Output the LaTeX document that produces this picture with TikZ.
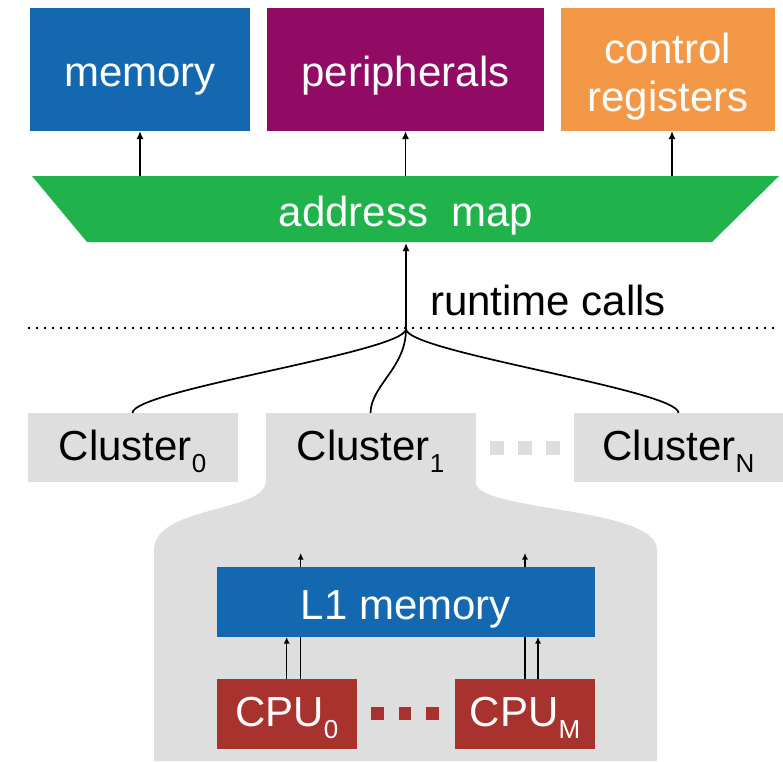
\documentclass[tikz,border=0pt]{standalone}
\usepackage{fontspec}
\setmainfont{Liberation Sans}
\usetikzlibrary{arrows.meta}

\definecolor{memblue}{RGB}{19,104,176}
\definecolor{periph}{RGB}{145,10,100}
\definecolor{ctrlorange}{RGB}{242,152,71}
\definecolor{mapgreen}{RGB}{32,179,76}
\definecolor{clgray}{RGB}{222,222,222}
\definecolor{cpured}{RGB}{168,50,46}

% lowered, smaller index after a label
\newcommand\lowsub[1]{\raisebox{-12pt}{\fontsize{26}{26}\selectfont #1}}

\begin{document}
\begin{tikzpicture}[x=1pt,y=-1pt,
  big/.style={font=\fontsize{42}{48}\selectfont},
  block/.style={big, draw=none, inner sep=0pt, outer sep=0pt, text height=34pt, text depth=0pt},
  subblock/.style={block, text height=25pt},
  arr/.style={-{Latex[length=8pt,width=7pt]}, line width=1.7pt},
  sarr/.style={-{Latex[length=6.5pt,width=6pt]}, line width=1.5pt},
  tree/.style={line width=1.7pt},
]
\useasboundingbox (0,0) rectangle (783,761);

% --- upper level: memory map targets
\node[block, fill=memblue, text=white, minimum width=220pt, minimum height=123pt] (mem) at (140,69.5) {memory};
\node[block, fill=periph, text=white, minimum width=277pt, minimum height=123pt] (per) at (405.5,69.5) {peripherals};
\node[block, fill=ctrlorange, text=white, minimum width=214pt, minimum height=123pt,
      text height=0pt, text depth=13pt] (ctrl) at (668,69.5)
      {\begin{tabular}[t]{@{}c@{}}control\\registers\end{tabular}};

% --- address map
\fill[mapgreen] (32,176) -- (779,176) -- (712,242) -- (87,242) -- cycle;
\coordinate (maptop) at (406,176);
\coordinate (mapbot) at (406,243);
\node[block, text=white] (map) at (406,209) {address\ \ map};

\draw[arr] (mem.south |- maptop) -- (mem.south);
\draw[arr] (per.south |- maptop) -- (per.south);
\draw[arr] ([xshift=4pt]ctrl.south |- maptop) -- ([xshift=4pt]ctrl.south);

% --- runtime calls
\coordinate (rt) at (406,329);
\draw[arr] (rt) -- (mapbot);
\node[big, anchor=base west, inner sep=0pt] (rtc) at (430,315) {runtime calls};

\coordinate (dl) at (28,328);
\coordinate (dr) at (779,328);
\draw[line width=1.8pt, dash pattern=on 2pt off 6pt] (dl) -- (dr);

% --- clusters
\node[subblock, fill=clgray, minimum width=210pt, minimum height=69pt] (c0) at (132.5,447.5) {Cluster\lowsub{0}};
\node[subblock, fill=clgray, minimum width=210pt, minimum height=69pt] (c1) at (370.5,447.5) {Cluster\lowsub{1}};
\node[subblock, fill=clgray, minimum width=209pt, minimum height=69pt] (cN) at (678.5,447.5) {Cluster\lowsub{N}};

\foreach \x in {497,525,553}
  \fill[clgray] (\x-6.75,441) rectangle (\x+6.75,454.5);

\draw[tree] (c0.north) .. controls (132,390) and (406,352) .. (rt);
\draw[tree] (c1.north) .. controls (371,385) and (406,368) .. (rt);
\draw[tree] (cN.north) .. controls (679,390) and (406,352) .. (rt);

% --- expanded view of one cluster
\fill[clgray] (c1.south west) .. controls (265.5,512) and (154,506) .. (154,550)
  -- (154,761) -- (657,761) -- (657,550)
  .. controls (657,506) and (475.5,512) .. (c1.south east) -- cycle;
\coordinate (ctop) at (406,553);

\node[subblock, fill=cpured, text=white, minimum width=140pt, minimum height=70pt] (cpu0) at (286.7,714) {CPU\lowsub{0}};
\node[subblock, fill=cpured, text=white, minimum width=140pt, minimum height=70pt] (cpuM) at (525,714) {CPU\lowsub{M}};
\foreach \x in {377.5,405,432.5}
  \fill[cpured] (\x-6.25,706.5) rectangle (\x+6.25,719.5);

% ports that pass through the L1 memory to the cluster boundary
\draw[sarr] ([xshift=14pt]cpu0.north) -- ([xshift=14pt]cpu0.north |- ctop);
\draw[sarr] (cpuM.north) -- (cpuM.north |- ctop);

\node[block, fill=memblue, text=white, minimum width=378pt, minimum height=70pt] (l1) at (406,602) {L1 memory};

\draw[sarr] (cpu0.north) -- (cpu0.north |- l1.south);
\draw[sarr] ([xshift=13pt]cpuM.north) -- ([xshift=13pt]cpuM.north |- l1.south);
\end{tikzpicture}
\end{document}
